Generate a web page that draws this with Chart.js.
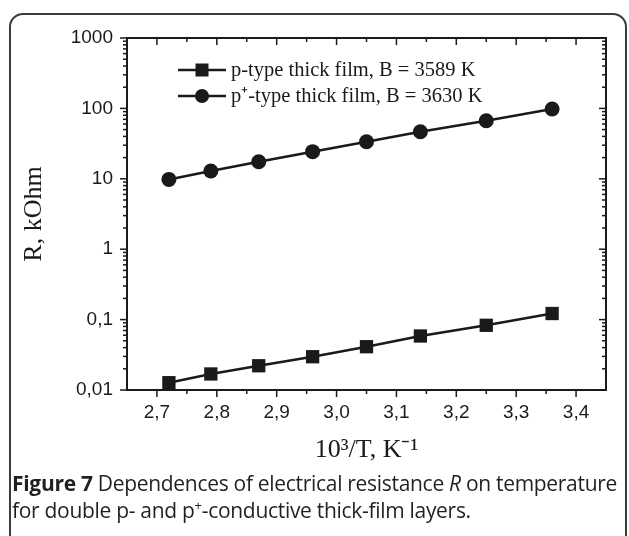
<!DOCTYPE html>
<html>
<head>
<meta charset="utf-8">
<script src="https://cdn.jsdelivr.net/npm/chart.js@4"></script>
<style>
  html, body { margin: 0; padding: 0; background: #fff; }
  body { width: 629px; height: 536px; position: relative; overflow: hidden; }
  .box {
    position: absolute; left: 9px; top: 13px; width: 618px; height: 600px;
    border: 2px solid #3c3c3c; border-radius: 14px 14px 0 0; box-sizing: border-box;
  }
  .wrap { position: absolute; left: 0; top: 0; width: 629px; height: 470px; }
  .caption {
    position: absolute; left: 12px; top: 470px; width: 615px;
    font-family: 'Open Sans', 'Noto Sans', sans-serif; font-size: 21px; line-height: 27px;
    color: #231f20; white-space: nowrap; letter-spacing: -0.3px;
  }
  .caption sup { font-size: 13px; vertical-align: 8px; line-height: 0; }
</style>
</head>
<body>
<div class="box"></div>
<div class="wrap"><canvas id="c"></canvas></div>
<div class="caption"><b>Figure 7</b> Dependences of electrical resistance <i>R</i> on temperature<br>for double p- and p<sup>+</sup>-conductive thick-film layers.</div>
<script>
// Données
const invT = [2.72, 2.79, 2.87, 2.96, 3.05, 3.14, 3.25, 3.36];
const rPType = [0.0127, 0.0169, 0.0221, 0.0297, 0.0412, 0.0585, 0.083, 0.122];
const rPPlusType = [9.8, 12.9, 17.5, 24.3, 33.6, 46.7, 66.8, 98];

const xTicks = [2.7, 2.8, 2.9, 3.0, 3.1, 3.2, 3.3, 3.4];
const xTickLabels = ['2,7', '2,8', '2,9', '3,0', '3,1', '3,2', '3,3', '3,4'];
const yTicks = [0.01, 0.1, 1, 10, 100, 1000];
const yTickLabels = ['0,01', '0,1', '1', '10', '100', '1000'];

const labelP = 'p-type thick film, B = 3589 K';
const labelPPlus = 'p\u207A-type thick film, B = 3630 K';

const INK = '#1a1a1a';

// cadre complet + graduations majeures/mineures sur les 4 côtés
const cadre = {
    id: 'cadre',
    afterDatasetsDraw(chart) {
        const { ctx, chartArea: a, scales: { x, y } } = chart;
        ctx.save();
        ctx.strokeStyle = INK;
        ctx.lineWidth = 2;
        ctx.strokeRect(a.left, a.top, a.right - a.left, a.bottom - a.top);

        const tick = (x1, y1, x2, y2) => {
            ctx.beginPath(); ctx.moveTo(x1, y1); ctx.lineTo(x2, y2); ctx.stroke();
        };
        ctx.lineWidth = 1.5;

        // axe x : majeures + mineures (milieux)
        xTicks.forEach((v) => {
            const px = x.getPixelForValue(v);
            tick(px, a.bottom, px, a.bottom + 7);
            tick(px, a.top, px, a.top + 7);
        });
        const xMinor = xTicks.map((v) => v + 0.05);
        xMinor.forEach((v) => {
            const px = x.getPixelForValue(v);
            if (px >= a.right - 1) return;
            tick(px, a.bottom, px, a.bottom + 4);
            tick(px, a.top, px, a.top + 4);
        });

        // axe y log
        yTicks.forEach((v) => {
            const py = y.getPixelForValue(v);
            tick(a.left - 7, py, a.left, py);
            tick(a.right - 7, py, a.right, py);
        });
        yTicks.slice(0, -1).forEach((d) => {
            for (let k = 2; k <= 9; k++) {
                const py = y.getPixelForValue(k * d);
                tick(a.left - 4, py, a.left, py);
                tick(a.right - 4, py, a.right, py);
            }
        });
        ctx.restore();
    },
    afterDraw(chart) {
        // légende : trait - marqueur - trait, dans la zone du graphe
        const { ctx, chartArea: a } = chart;
        ctx.save();
        ctx.font = '20.5px "Liberation Serif", "Times New Roman", serif';
        ctx.textBaseline = 'middle';
        ctx.fillStyle = INK;
        chart.data.datasets.forEach((ds, i) => {
            const yy = a.top + 32 + i * 26;
            const x0 = a.left + 51;
            ctx.strokeStyle = INK;
            ctx.lineWidth = 2.5;
            ctx.beginPath(); ctx.moveTo(x0, yy); ctx.lineTo(x0 + 48, yy); ctx.stroke();
            ctx.beginPath();
            if (ds.pointStyle === 'rect') {
                ctx.rect(x0 + 17.5, yy - 6.5, 13, 13);
            } else {
                ctx.arc(x0 + 24, yy, 7, 0, Math.PI * 2);
            }
            ctx.fill();
            ctx.fillText(ds.label, x0 + 53, yy + 1);
        });
        ctx.restore();
    },
};

const serie = (label, data, style, r) => ({
    label,
    data: invT.map((v, i) => ({ x: v, y: data[i] })),
    showLine: true,
    borderColor: INK,
    backgroundColor: INK,
    borderWidth: 2.5,
    pointStyle: style,
    pointRadius: r,
    pointHoverRadius: r,
    pointBorderWidth: 0,
    clip: false,
});

new Chart(document.getElementById('c'), {
    type: 'scatter',
    data: {
        datasets: [
            serie(labelP, rPType, 'rect', 9.4),
            serie(labelPPlus, rPPlusType, 'circle', 7.5),
        ],
    },
    options: {
        responsive: true,
        maintainAspectRatio: false,
        animation: false,
        layout: { padding: { left: 0, right: 23, top: 38, bottom: 0 } },
        plugins: { legend: { display: false }, tooltip: { enabled: false } },
        scales: {
            x: {
                type: 'linear', min: 2.65, max: 3.45,
                afterBuildTicks: (s) => { s.ticks = xTicks.map((v) => ({ value: v })); },
                afterFit: (s) => { s.height = 80; },
                grid: { display: false, drawTicks: false },
                border: { display: false },
                ticks: {
                    padding: 11, color: INK,
                    font: { family: '"Liberation Sans", Arial, sans-serif', size: 19 },
                    callback: (v) => xTickLabels[xTicks.findIndex((t) => Math.abs(t - v) < 1e-6)],
                },
                title: {
                    display: true, text: '10\u00B3/T, K\u207B\u00B9', color: INK,
                    font: { family: '"Liberation Serif", "Times New Roman", serif', size: 26 },
                    padding: { top: 0, bottom: 4 },
                },
            },
            y: {
                type: 'logarithmic', min: 0.01, max: 1000,
                afterBuildTicks: (s) => { s.ticks = yTicks.map((v) => ({ value: v })); },
                afterFit: (s) => { s.width = 127; },
                grid: { display: false, drawTicks: false },
                border: { display: false },
                ticks: {
                    padding: 14, color: INK,
                    font: { family: '"Liberation Sans", Arial, sans-serif', size: 19 },
                    callback: (v) => yTickLabels[yTicks.findIndex((t) => Math.abs(t - v) / t < 1e-6)],
                },
                title: {
                    display: true, text: 'R, kOhm', color: INK,
                    font: { family: '"Liberation Serif", "Times New Roman", serif', size: 26 },
                    padding: { top: 19, bottom: 0 },
                },
            },
        },
    },
    plugins: [cadre],
});
</script>
</body>
</html>
